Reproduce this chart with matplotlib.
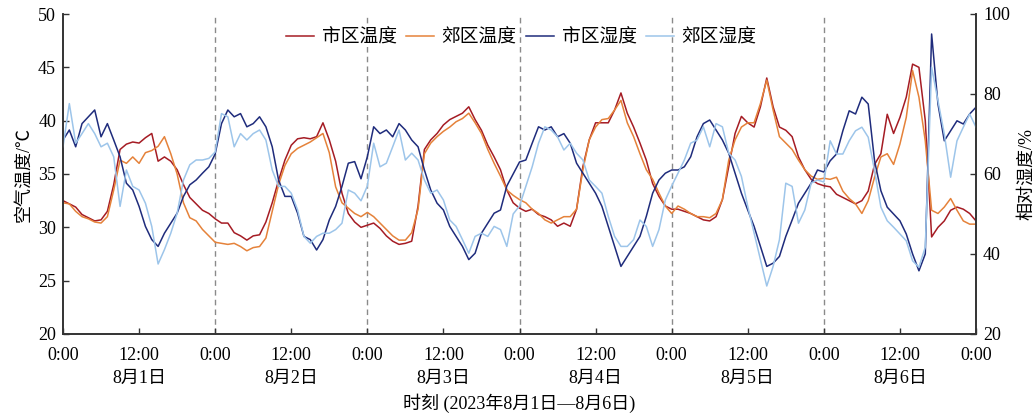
import numpy as np
import matplotlib
matplotlib.use("Agg")
import matplotlib.pyplot as plt

plt.rcParams['font.family'] = ['Liberation Serif', 'Noto Sans CJK SC']
plt.rcParams['axes.unicode_minus'] = False

# hourly readings, 2023-08-01 0:00 .. 2023-08-07 0:00
city_temp = [
    32.5, 32.2, 31.9, 31.2, 30.9, 30.6, 30.7, 31.5, 34.0, 37.3, 37.8, 38.0, 37.9, 38.4, 38.8, 36.2, 36.6, 36.2, 35.4, 34.0, 32.8, 32.2, 31.6, 31.3, 30.8,
    30.4, 30.4, 29.5, 29.2, 28.8, 29.2, 29.3, 30.5, 32.3, 34.4, 36.3, 37.7, 38.3, 38.4, 38.3, 38.5, 39.8, 38.2, 36.2, 33.2, 31.3, 30.5, 30.0, 30.2,
    30.4, 29.9, 29.2, 28.7, 28.4, 28.5, 28.7, 32.0, 37.3, 38.2, 38.8, 39.6, 40.1, 40.4, 40.7, 41.3, 40.1, 39.1, 37.7, 36.6, 35.4, 33.5, 32.3, 31.8,
    31.5, 31.7, 31.2, 31.0, 30.7, 30.1, 30.4, 30.1, 31.7, 35.7, 38.2, 39.8, 39.8, 39.8, 41.0, 42.6, 40.7, 39.4, 37.9, 36.3, 34.1, 32.9, 32.0, 31.7,
    31.7, 31.5, 31.3, 31.0, 30.7, 30.6, 31.0, 32.6, 35.7, 38.8, 40.4, 39.8, 39.4, 41.3, 44.0, 41.3, 39.4, 39.1, 38.5, 36.6, 35.4, 34.5, 34.1, 33.9,
    33.8, 33.1, 32.8, 32.5, 32.2, 32.5, 33.4, 35.9, 36.9, 40.6, 38.8, 40.3, 42.2, 45.3, 45.0, 40.0, 29.1, 30.0, 30.6, 31.6, 31.9, 31.7, 31.3, 30.6,
]
suburb_temp = [
    32.3, 32.2, 31.5, 31.0, 30.8, 30.5, 30.4, 31.0, 33.5, 36.3, 36.0, 36.6, 36.0, 37.0, 37.2, 37.6, 38.5, 36.9, 35.0, 32.3, 30.9, 30.6, 29.8, 29.2, 28.6,
    28.5, 28.4, 28.5, 28.2, 27.8, 28.1, 28.2, 29.0, 31.5, 34.0, 35.8, 36.9, 37.4, 37.7, 38.0, 38.4, 38.8, 37.0, 33.8, 32.3, 31.8, 31.3, 31.0, 31.4,
    31.0, 30.4, 29.8, 29.2, 28.8, 28.8, 29.5, 31.7, 36.9, 37.9, 38.5, 39.0, 39.4, 39.9, 40.2, 40.7, 39.8, 38.8, 37.3, 36.0, 34.8, 33.5, 33.0, 32.6,
    32.3, 31.7, 31.3, 30.7, 30.4, 30.7, 31.0, 31.0, 31.7, 35.4, 38.2, 39.4, 40.1, 40.2, 41.0, 41.9, 39.8, 38.5, 36.9, 35.4, 34.5, 33.2, 32.0, 31.3,
    32.0, 31.7, 31.3, 31.0, 31.0, 30.9, 31.3, 32.6, 36.3, 38.2, 39.4, 39.8, 39.8, 41.6, 43.8, 41.0, 38.5, 37.9, 37.3, 36.3, 35.4, 34.8, 34.5, 34.6,
    34.5, 34.7, 33.4, 32.7, 32.2, 31.3, 32.5, 34.7, 36.6, 36.9, 35.9, 37.8, 40.3, 44.7, 42.2, 38.1, 31.6, 31.3, 31.9, 32.7, 31.6, 30.6, 30.3, 30.3,
]
city_rh = [
    68.5, 71.0, 66.8, 72.6, 74.3, 76.0, 69.3, 72.6, 68.5, 64.3, 57.7, 56.0, 51.9, 46.9, 43.6, 41.9, 45.2, 47.7, 50.2, 54.4, 57.3, 58.5, 60.2, 61.8, 65.0,
    72.6, 76.0, 74.3, 75.1, 71.8, 72.6, 74.3, 71.8, 66.8, 58.5, 54.4, 54.4, 50.2, 44.4, 43.6, 41.0, 43.6, 48.5, 51.9, 56.9, 62.7, 63.1, 58.8, 64.3,
    71.8, 70.1, 71.0, 69.3, 72.6, 71.0, 68.5, 66.8, 61.0, 56.0, 52.7, 51.0, 46.9, 44.4, 41.9, 38.6, 40.2, 45.2, 47.7, 50.2, 51.0, 57.0, 60.0, 63.0,
    63.5, 67.7, 71.8, 71.0, 71.8, 69.3, 70.1, 67.7, 62.7, 60.2, 57.7, 55.2, 51.9, 46.9, 41.9, 36.9, 39.4, 41.9, 44.4, 49.4, 55.2, 58.5, 60.2, 61.0,
    61.0, 61.8, 64.3, 69.3, 72.6, 73.5, 71.0, 68.5, 65.2, 60.2, 55.2, 51.0, 46.9, 41.9, 36.9, 37.7, 39.4, 44.4, 48.5, 52.7, 55.2, 57.7, 61.0, 60.5,
    63.3, 65.0, 70.8, 75.8, 75.0, 79.2, 77.5, 63.3, 55.8, 51.7, 50.0, 48.3, 45.0, 40.0, 35.8, 40.0, 95.0, 77.5, 68.3, 70.8, 73.3, 72.5, 75.0, 76.7,
]
suburb_rh = [
    66.8, 77.6, 67.7, 70.1, 72.6, 70.1, 66.8, 67.7, 64.3, 51.9, 61.0, 56.9, 56.0, 52.7, 46.9, 37.5, 41.1, 45.2, 50.2, 58.5, 62.3, 63.5, 63.5, 63.9, 65.5,
    75.1, 74.3, 66.8, 70.1, 68.5, 70.1, 71.0, 68.5, 61.0, 56.9, 56.9, 55.2, 51.0, 44.4, 42.7, 44.4, 45.2, 45.2, 46.1, 47.7, 56.0, 55.2, 53.3, 57.0,
    67.7, 61.8, 62.7, 66.8, 71.0, 63.5, 65.2, 63.5, 58.5, 55.2, 56.0, 53.5, 48.5, 46.9, 43.6, 40.2, 44.4, 45.2, 44.4, 46.9, 46.1, 41.9, 50.0, 52.0,
    56.9, 61.8, 67.7, 71.8, 71.0, 69.3, 66.0, 67.7, 65.2, 63.5, 58.5, 56.9, 55.2, 49.4, 44.4, 41.9, 41.9, 43.6, 48.5, 46.9, 41.9, 46.1, 53.5, 57.0,
    60.2, 63.5, 67.7, 68.5, 71.8, 66.8, 72.6, 71.8, 65.2, 63.5, 59.4, 51.9, 45.2, 38.6, 32.0, 36.9, 43.6, 57.7, 56.9, 47.7, 51.0, 57.7, 58.5, 58.0,
    68.3, 65.0, 65.0, 68.3, 70.8, 71.7, 69.2, 60.8, 51.7, 48.3, 46.7, 45.0, 43.3, 38.3, 36.7, 41.7, 86.7, 78.3, 70.0, 59.2, 68.3, 71.7, 75.0, 71.7,
]
day_labels = ["8月1日", "8月2日", "8月3日", "8月4日", "8月5日", "8月6日"]
series_names = ["市区温度", "郊区温度", "市区湿度", "郊区湿度"]

hours = np.arange(len(city_temp))
colors = ["#A51C24", "#E5823A", "#1F2C7C", "#9DC5EA"]

fig = plt.figure(figsize=(10.36, 4.18), dpi=100)
ax = fig.add_axes([63 / 1036, 1 - 334 / 418, 913 / 1036, 320 / 418])
ax2 = ax.twinx()

# day separators
for d in range(1, 6):
    ax.axvline(24 * d, color="#8a8a8a", lw=1.0, ls=(0, (4, 3)), zorder=0)

l1, = ax.plot(hours, city_temp, color=colors[0], lw=1.1)
l2, = ax.plot(hours, suburb_temp, color=colors[1], lw=1.1)
l3, = ax2.plot(hours, city_rh, color=colors[2], lw=1.1)
l4, = ax2.plot(hours, suburb_rh, color=colors[3], lw=1.1)

ax.set_xlim(0, 144)
ax.set_ylim(20, 50)
ax2.set_ylim(20, 100)
ax.set_yticks(range(20, 51, 5))
ax2.set_yticks(range(20, 101, 20))
ax.set_xticks(range(0, 145, 12))
ax.set_xticklabels(["0:00" if t % 24 == 0 else "12:00" for t in range(0, 145, 12)])

for a in (ax, ax2):
    a.spines["top"].set_visible(False)
    for s in a.spines.values():
        s.set_linewidth(1.2)
        s.set_color("#333333")
    a.tick_params(direction="in", length=4, width=1.0, color="#333333", labelsize=13, pad=5)
ax.tick_params(axis="x", pad=9)

ax.set_ylabel("空气温度/℃", fontsize=13, labelpad=4)
ax2.set_ylabel("相对湿度/%", fontsize=13, labelpad=6)

trans = ax.get_xaxis_transform()
for i, lab in enumerate(day_labels):
    ax.text(12 + 24 * i, -0.1375, lab, transform=trans, ha="center", va="center", fontsize=13)
ax.text(72, -0.2175, "时刻 (2023年8月1日—8月6日)", transform=trans, ha="center", va="center", fontsize=13)

ax2.legend([l1, l2, l3, l4], series_names, loc="center", bbox_to_anchor=(0.502, 0.925),
           ncol=4, frameon=False, fontsize=13.5, handlelength=1.5, handletextpad=0.4,
           columnspacing=0.5)

fig.savefig("out.png", dpi=100)
